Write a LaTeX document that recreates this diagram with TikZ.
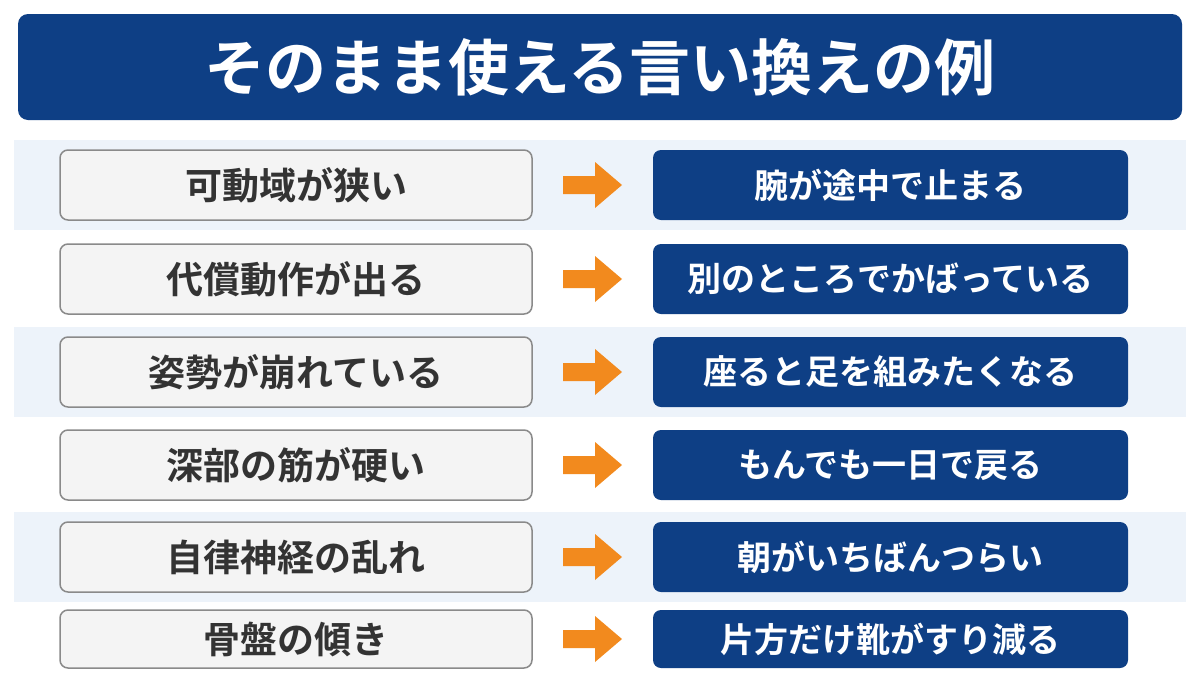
\documentclass[tikz,border=0pt]{standalone}
\usetikzlibrary{calc}
\usepackage{fontspec}
\newfontfamily\cjk[BoldFont={Noto Sans CJK JP Bold}]{Noto Sans CJK JP}
\definecolor{navy}{HTML}{0E3F85}
\definecolor{band}{HTML}{EDF3FA}
\definecolor{lbox}{HTML}{F4F4F4}
\definecolor{lborder}{HTML}{8A8A8A}
\definecolor{ltext}{HTML}{333333}
\definecolor{org}{HTML}{F28A1E}
\begin{document}
\begin{tikzpicture}[x=1pt,y=-1pt,
 lb/.style={draw=lborder,line width=1.5pt,fill=lbox,rounded corners=8pt,minimum width=472pt,minimum height=70pt,font=\cjk\bfseries\fontsize{37}{40}\selectfont,text=ltext},
 rb/.style={fill=navy,rounded corners=8pt,minimum width=475pt,minimum height=70pt,font=\cjk\bfseries\fontsize{34}{38}\selectfont,text=white},
 ar/.style={fill=org,draw=none}]
\useasboundingbox (0,0) rectangle (1200,675);
\fill[white] (0,0) rectangle (1200,675);
\node[fill=navy,rounded corners=10pt,minimum width=1164pt,minimum height=106pt,text=white,font=\cjk\bfseries\fontsize{61}{66}\selectfont] (title) at (600,67) {そのまま使える言い換えの例};
\foreach \y in {185,372,557}{\fill[band] (14,\y-45) rectangle (1186,\y+45);}
\newcommand\row[4]{%
 \node[lb] (l#1) at (296,#2) {#3};
 \node[rb] (r#1) at (890.5,#2) {#4};
 \coordinate (a#1) at (563,#2);
 \fill[ar] ($(a#1)+(0,-9)$) -- ++(32,0) -- ++(0,-14) -- ++(27,23) -- ++(-27,23) -- ++(0,-14) -- ++(-32,0) -- cycle;}
\row{1}{185}{可動域が狭い}{腕が途中で止まる}
\row{2}{279}{代償動作が出る}{別のところでかばっている}
\row{3}{372}{姿勢が崩れている}{座ると足を組みたくなる}
\row{4}{465}{深部の筋が硬い}{もんでも一日で戻る}
\row{5}{557}{自律神経の乱れ}{朝がいちばんつらい}
\node[lb,minimum height=58pt] (l6) at (296,639) {骨盤の傾き};
\node[rb,minimum height=58pt] (r6) at (890.5,639) {片方だけ靴がすり減る};
\coordinate (a6) at (563,639);
\fill[ar] ($(a6)+(0,-9)$) -- ++(32,0) -- ++(0,-14) -- ++(27,23) -- ++(-27,23) -- ++(0,-14) -- ++(-32,0) -- cycle;
\end{tikzpicture}
\end{document}
